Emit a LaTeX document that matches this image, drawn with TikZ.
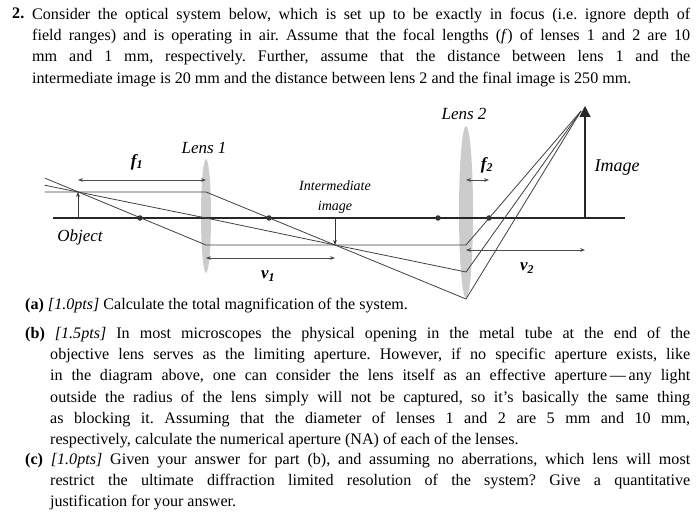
\documentclass[tikz,border=0pt]{standalone}
\usepackage{fontspec}
\setmainfont{Liberation Serif}
\usetikzlibrary{positioning,calc,arrows.meta}
\frenchspacing
\begin{document}
\begin{tikzpicture}[x=1pt,y=-1pt,
	ray/.style={line width=0.8pt,black!75},
	dim/.style={{Stealth[length=5pt]}-{Stealth[length=5pt]},line width=0.6pt,black!70},
	focus/.style={circle,fill=black!80,inner sep=0pt,minimum size=5.5pt},
	lbl/.style={font=\fontsize{17}{17}\selectfont\itshape,inner sep=1pt},
	para/.style={anchor=north west,inner sep=0pt,text width=#1,align=justify,font=\fontsize{16.1}{21.2}\selectfont}]
	\useasboundingbox (0,0) rectangle (700,526);
	
	% question text
	\node[anchor=north west,inner sep=0pt,font=\fontsize{16.1}{21.2}\selectfont\bfseries] (num) at (12,8) {2.};
	\node[para=658pt] (intro) at (32,8) {Consider the optical system below, which is set up to be exactly in focus (i.e. ignore depth of\linebreak field ranges) and is operating in air. Assume that the focal lengths (\textit{f}) of lenses 1 and 2 are 10\linebreak mm and 1 mm, respectively. Further, assume that the distance between lens 1 and the\linebreak intermediate image is 20 mm and the distance between lens 2 and the final image is 250 mm.};
	
	% lenses
	\fill[black!20] (206,216) ellipse [x radius=5,y radius=57];
	\fill[black!20] (466,212) ellipse [x radius=7,y radius=86];
	\node[lbl] (l1) at (204,148) {Lens 1};
	\node[lbl] (l2) at (464,114) {Lens 2};
	
	% points
	\coordinate (axl) at (53,218);
	\coordinate (axr) at (625,218);
	\coordinate (obase) at (78,218);
	\coordinate (otip) at (78,192);
	\coordinate (ibase) at (335,218);
	\coordinate (itip) at (335,245);
	\coordinate (fbase) at (585,218);
	\coordinate (ftip) at (581,111);
	\coordinate (ltop) at (206,192);
	\coordinate (lbot) at (206,245);
	\coordinate (lc) at (206,218);
	\coordinate (ma) at (466,245);
	\coordinate (mb) at (466,272);
	\coordinate (mc) at (466,299);
	
	\draw[line width=1.3pt,black!85] (axl)--(axr);
	
	% rays
	\draw[ray] ($(otip)!-0.26!(ltop)$)--(ltop)--(itip)--(mc)--(ftip);
	\draw[ray] ($(otip)!-0.26!(lc)$)--(lc)--(itip)--(mb)--(ftip);
	\draw[ray] ($(otip)!-0.53!(140,218)$)--(lbot)--(itip)--(ma)--(ftip);
	
	% foci
	\node[focus] (f1l) at (140,218) {};
	\node[focus] (f1r) at (269,218) {};
	\node[focus] (f2l) at (438,218) {};
	\node[focus] (f2r) at (489,218) {};
	
	% object and images
	\draw[-{Stealth[length=5pt]},line width=0.9pt,black!80] (obase)--(otip);
	\draw[-{Stealth[length=5pt]},line width=0.9pt,black!80] (ibase)--(itip);
	\draw[-{Triangle[length=11pt,width=11pt]},line width=1.3pt,black!85] (fbase)--(585,106);
	
	% dimensions
	\draw[dim] (78,180)--(206,180);
	\draw[dim] (206,258)--(335,258);
	\draw[dim] (466,180)--(489,180);
	\draw[dim] (466,250)--(585,250);
	\node[lbl,font=\fontsize{17}{17}\selectfont\bfseries\itshape] (f1) at (137,162) {f\textsubscript{1}};
	\node[lbl,font=\fontsize{17}{17}\selectfont\bfseries\itshape] (v1) at (268,276) {v\textsubscript{1}};
	\node[lbl,font=\fontsize{17}{17}\selectfont\bfseries\itshape] (f2) at (487,165) {f\textsubscript{2}};
	\node[lbl,font=\fontsize{17}{17}\selectfont\bfseries\itshape] (v2) at (527,268) {v\textsubscript{2}};
	\node[lbl,align=center,font=\fontsize{14}{20}\selectfont\itshape] (inter) at (335,197) {Intermediate\\image};
	\node[lbl] (obj) at (80,237) {Object};
	\node[lbl,font=\fontsize{18}{18}\selectfont\itshape] (img) at (617,168) {Image};
	
	% parts
	\node[anchor=north west,inner sep=0pt,font=\fontsize{16.1}{21.2}\selectfont] (pa) at (25,298) {\textbf{(a)} \textit{[1.0pts]} Calculate the total magnification of the system.};
	\node[anchor=north west,inner sep=0pt,font=\fontsize{16.1}{21.2}\selectfont\bfseries] (lb) at (25,327) {(b)};
	\node[para=640pt] (pb) at (50,327) {\hspace*{-25pt}\phantom{\textbf{(b)}} \textit{[1.5pts]} In most microscopes the physical opening in the metal tube at the end of the\linebreak objective lens serves as the limiting aperture. However, if no specific aperture exists, like\linebreak in the diagram above, one can consider the lens itself as an effective aperture\,---\,any light\linebreak outside the radius of the lens simply will not be captured, so it’s basically the same thing\linebreak as blocking it. Assuming that the diameter of lenses 1 and 2 are 5 mm and 10 mm,\linebreak respectively, calculate the numerical aperture (NA) of each of the lenses.};
	\node[anchor=north west,inner sep=0pt,font=\fontsize{16.1}{21.2}\selectfont\bfseries] (lc) at (25,453) {(c)};
	\node[para=640pt] (pc) at (50,453) {\hspace*{-25pt}\phantom{\textbf{(c)}} \textit{[1.0pts]} Given your answer for part (b), and assuming no aberrations, which lens will most\linebreak restrict the ultimate diffraction limited resolution of the system? Give a quantitative\linebreak justification for your answer.};
\end{tikzpicture}
\end{document}
